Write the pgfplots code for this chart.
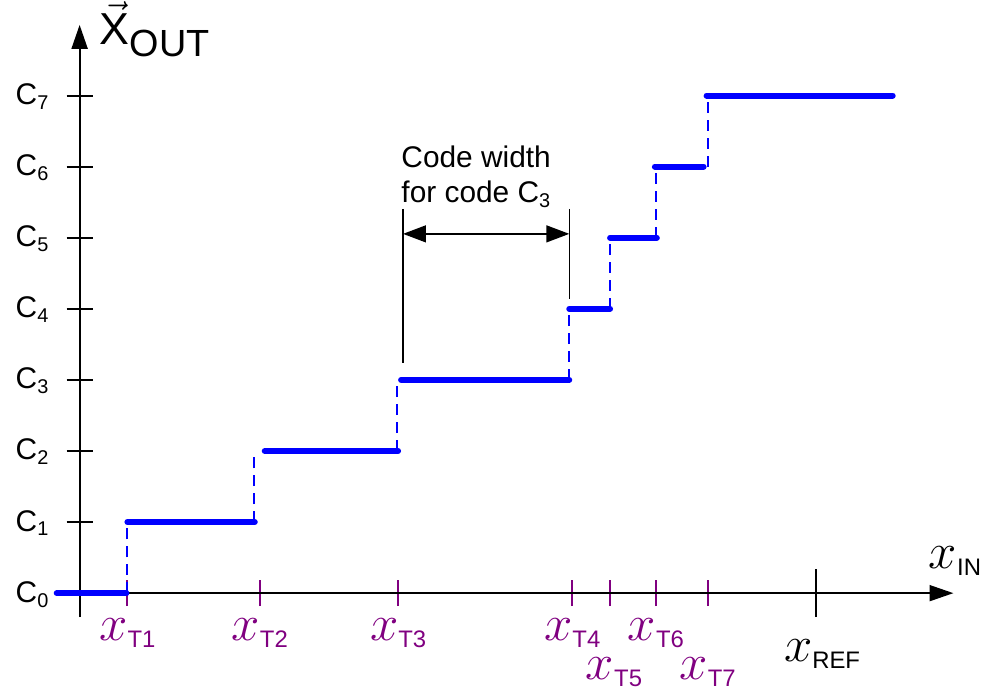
\documentclass[border=0pt]{standalone}
\usepackage{fix-cm}
\usepackage{pgfplots}
\pgfplotsset{compat=1.18}
\usepackage{fontspec}
\setmainfont{Liberation Sans}
\usetikzlibrary{arrows.meta}
\definecolor{tp}{RGB}{128,0,128}
\definecolor{lb}{RGB}{0,0,255}
\newcommand\Cl[1]{C\raisebox{-2.5pt}{\fontsize{10}{10}\selectfont #1}}
\newcommand\xl[1]{{\fontsize{25.5}{25.5}\selectfont$x$}\raisebox{-3.5pt}{\fontsize{12}{12}\selectfont #1}}
\begin{document}
\begin{tikzpicture}
\begin{axis}[
  x=0.5pt, y=35.714pt,
  xmin=-23, xmax=878, ymin=-0.336, ymax=7.994,
  enlargelimits=false,
  axis lines=middle,
  axis line style={line width=1pt, -{Triangle[length=12pt,width=8pt]}},
  clip=false,
  hide obscured y ticks=false,
  tick align=center,
  major tick length=13pt,
  ytick={0,...,7},
  yticklabels={\Cl0,\Cl1,\Cl2,\Cl3,\Cl4,\Cl5,\Cl6,\Cl7},
  yticklabel style={font=\fontsize{15}{15}\selectfont, anchor=base east, inner sep=0pt, xshift=-9pt, yshift=-4.5pt},
  ytick style={line width=1pt, draw=black},
  xtick={48,181,320,495,533,579,631},
  xticklabels={\xl{T1},\xl{T2},\xl{T3},\xl{T4},\raisebox{-19.5pt}{\hspace*{4pt}\xl{T5}},\xl{T6},\raisebox{-19.5pt}{\xl{T7}}},
  xticklabel style={text=tp, anchor=base, inner sep=0pt, yshift=-17.5pt},
  xtick style={line width=1pt, draw=tp},
  extra x ticks={740},
  extra x tick labels={\raisebox{-5pt}{\hspace*{6pt}\color{black}\xl{REF}}},
  extra x tick style={major tick length=24pt, xtick style={draw=black}},
  every axis y label/.style={at={(axis description cs:0.0477,0.9664)}, anchor=base west, inner sep=0pt},
  ylabel={{\fontsize{22.5}{22.5}\selectfont$\vec{\hbox{X}}$}\raisebox{-6pt}{\fontsize{19}{19}\selectfont OUT}},
  every axis x label/.style={at={(axis description cs:0.9722,0.0824)}, anchor=base west, inner sep=0pt},
  xlabel={\xl{IN}},
]
\path (axis cs:-80,-1.358) rectangle (axis cs:901,8.344);
% dashed risers
\addplot[lb, line width=1pt, dash pattern=on 5.5pt off 3.5pt, unbounded coords=jump] coordinates {
  (48,0) (48,1) (48,nan)
  (175,1) (175,2) (175,nan)
  (319,2) (319,3) (319,nan)
  (492,3) (492,4) (492,nan)
  (533,4) (533,5) (533,nan)
  (579,5) (579,6) (579,nan)
  (631,6) (631,7)
};
% code levels
\addplot[lb, line width=3pt, line cap=round, unbounded coords=jump] coordinates {
  (-23,0) (47,0) (47,nan)
  (48,1) (176,1) (176,nan)
  (186,2) (320,2) (320,nan)
  (323,3) (492,3) (492,nan)
  (492,4) (533,4) (533,nan)
  (533,5) (580,5) (580,nan)
  (578,6) (627,6) (627,nan)
  (630,7) (817,7)
};
% code width annotation
\draw[line width=0.75pt] (axis cs:325,5.404) -- (axis cs:325,3.234);
\draw[line width=0.75pt] (axis cs:492,5.404) -- (axis cs:492,4.144);
\draw[line width=0.75pt, {Triangle[length=11.5pt,width=8.5pt]}-{Triangle[length=11.5pt,width=8.5pt]}] (axis cs:325,5.054) -- (axis cs:492,5.054);
\node[anchor=base west, inner sep=0pt, font=\fontsize{15}{15}\selectfont] at (axis cs:323,5.992) {Code width};
\node[anchor=base west, inner sep=0pt, font=\fontsize{15}{15}\selectfont] at (axis cs:323,5.502) {for code \Cl3};
\end{axis}
\end{tikzpicture}
\end{document}
